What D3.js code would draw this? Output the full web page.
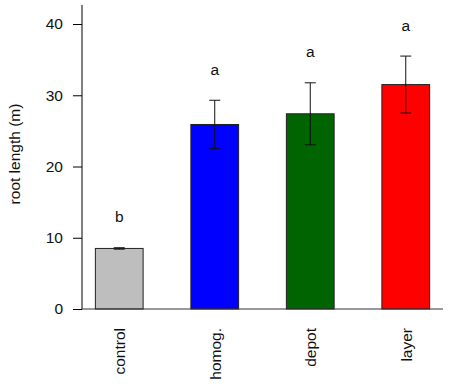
<!DOCTYPE html>
<html>
<head>
<meta charset="utf-8">
<script src="https://cdn.jsdelivr.net/npm/d3@7"></script>
<style>
  body { margin: 0; background: #fff; }
  text { font-family: "Liberation Sans", Arial, sans-serif; fill: #111; }
</style>
</head>
<body>
<script>
const categories = ['control', 'homog.', 'depot', 'layer']
const means = [8.5, 25.9, 27.4, 31.5]
const errors = [0.1, 3.4, 4.35, 4.0]
const letters = ['b', 'a', 'a', 'a']
const colors = ['#bebebe', '#0000ff', '#006400', '#ff0000']
const yTicks = [0, 10, 20, 30, 40]

const w = 451
const h = 388
const plotLeft = 82
const plotRight = 443
const plotTop = 5
const plotBottom = 309
const fontSize = '15.5px'

const svg = d3.select('body')
     .append('svg')
     .attr('width', w)
     .attr('height', h)

const xScale = d3.scaleBand()
     .domain(categories)
     .range([plotLeft, plotRight])
     .paddingInner(0.5)
     .paddingOuter(0.14)
const yScale = d3.scaleLinear()
     .domain([0, 42.67])
     .range([plotBottom, plotTop])

// bars
svg.selectAll('rect.bar')
     .data(categories)
     .enter()
     .append('rect')
     .attr('class', 'bar')
     .attr('x', d => xScale(d))
     .attr('width', xScale.bandwidth())
     .attr('y', (d, i) => yScale(means[i]))
     .attr('height', (d, i) => plotBottom - yScale(means[i]))
     .attr('fill', (d, i) => colors[i])
     .attr('stroke', '#222')
     .attr('stroke-width', 1)

// error bars
const cx = d => xScale(d) + xScale.bandwidth() / 2
const err = svg.append('g').attr('stroke', '#111').attr('stroke-width', 1)
categories.forEach((d, i) => {
     err.append('line')
          .attr('x1', cx(d)).attr('x2', cx(d))
          .attr('y1', yScale(means[i] - errors[i])).attr('y2', yScale(means[i] + errors[i]))
     ;[means[i] - errors[i], means[i] + errors[i]].forEach(v => {
          err.append('line')
               .attr('x1', cx(d) - 5.5).attr('x2', cx(d) + 5.5)
               .attr('y1', yScale(v)).attr('y2', yScale(v))
     })
})

// significance letters
svg.selectAll('text.letter')
     .data(categories)
     .enter()
     .append('text')
     .attr('class', 'letter')
     .attr('x', d => cx(d))
     .attr('y', (d, i) => yScale(means[i] + errors[i]) - 31)
     .attr('dy', '0.35em')
     .attr('text-anchor', 'middle')
     .style('font-size', fontSize)
     .text((d, i) => letters[i])

// y axis
const yAxis = d3.axisLeft(yScale).tickValues(yTicks).tickSize(9).tickPadding(10)
const gy = svg.append('g')
     .attr('transform', 'translate(' + plotLeft + ',0)')
     .call(yAxis)
gy.select('.domain').attr('d', 'M0,' + plotTop + 'V' + plotBottom)
gy.selectAll('text').style('font-size', fontSize).style('font-family', '"Liberation Sans", Arial, sans-serif').attr('fill', '#111')

// x axis line
svg.append('line')
     .attr('x1', plotLeft).attr('x2', plotRight)
     .attr('y1', plotBottom).attr('y2', plotBottom)
     .attr('stroke', '#333')

// x labels
svg.selectAll('text.xlab')
     .data(categories)
     .enter()
     .append('text')
     .attr('class', 'xlab')
     .attr('transform', d => 'translate(' + cx(d) + ',' + 328 + ') rotate(-90)')
     .attr('dy', '0.38em')
     .attr('text-anchor', 'end')
     .style('font-size', fontSize)
     .text(d => d)

// y label
svg.append('text')
     .attr('transform', 'translate(15,' + 154 + ') rotate(-90)')
     .attr('dy', '0.35em')
     .attr('text-anchor', 'middle')
     .style('font-size', fontSize)
     .text('root length (m)')
</script>
</body>
</html>
